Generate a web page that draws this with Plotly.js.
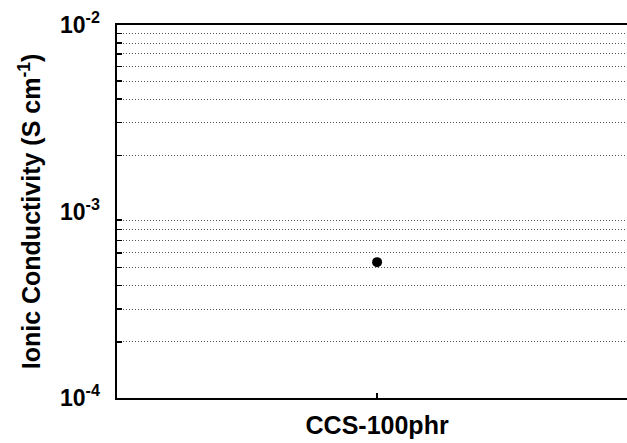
<!DOCTYPE html>
<html><head><meta charset="utf-8">
<script src="https://cdn.plot.ly/plotly-3.0.1.min.js"></script>
<style>html,body{margin:0;padding:0;background:#fff}</style>
</head><body>
<div id="chart" style="width:627px;height:443px"></div>
<script>
var categories = ["CCS-100phr"];
var conductivity = [5.35e-4];
var majorTickVals = [1e-4, 1e-3, 1e-2];
var majorTickText = ["10<sup>-4</sup>", "10<sup>-3</sup>", "10<sup>-2</sup>"];
var minorDigits = [2, 3, 4, 5, 6, 7, 8, 9];
var decades = [1e-4, 1e-3];

var minorVals = [];
decades.forEach(function (d) { minorDigits.forEach(function (m) { minorVals.push(m * d); }); });

var fontFam = "Liberation Sans, Arial, sans-serif";
var trace = {
  x: categories, y: conductivity, type: "scatter", mode: "markers",
  marker: {color: "#000", size: 10, symbol: "circle"}, showlegend: false
};
var layout = {
  width: 627, height: 443,
  margin: {l: 117, r: 0, t: 25, b: 45},
  paper_bgcolor: "#fff", plot_bgcolor: "#fff",
  font: {family: fontFam, color: "#000"},
  xaxis: {
    type: "category", range: [-0.51, 0.49],
    showline: true, linecolor: "#000", linewidth: 2, mirror: true,
    ticks: "inside", ticklen: 5, tickwidth: 1.5, tickcolor: "#000",
    showgrid: false, zeroline: false,
    tickfont: {size: 25, family: fontFam, weight: "bold"},
    ticklabelstandoff: 4
  },
  yaxis: {
    type: "log", range: [-4, -2],
    tickmode: "array", tickvals: majorTickVals, ticktext: majorTickText,
    ticks: "", showgrid: false, zeroline: false,
    showline: true, linecolor: "#000", linewidth: 2.5, mirror: false,
    tickfont: {size: 23, family: fontFam, weight: "bold"},
    ticklabelstandoff: 10,
    minor: {
      tickmode: "array", tickvals: minorVals,
      ticks: "inside", ticklen: 5, tickwidth: 1.5, tickcolor: "#000",
      showgrid: true, gridcolor: "#555", griddash: "1px,2px", gridwidth: 1
    },
    title: {text: "Ionic Conductivity (S cm<sup>-1</sup>)", font: {size: 25, family: fontFam, weight: "bold"}, standoff: 12}
  }
};
Plotly.newPlot("chart", [trace], layout, {displayModeBar: false, staticPlot: true});
</script>
</body></html>
